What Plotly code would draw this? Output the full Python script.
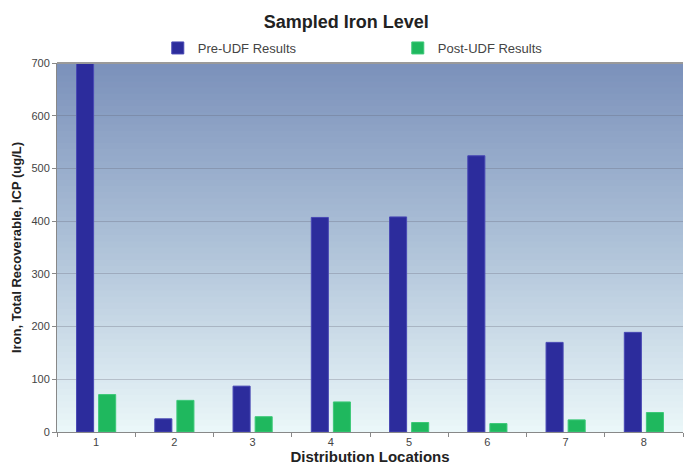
import plotly.graph_objects as go

locations = ["1", "2", "3", "4", "5", "6", "7", "8"]
pre_udf = [700, 25, 87, 407, 408, 524, 170, 189]
post_udf = [71, 60, 29, 57, 18, 16, 23, 37]
y_ticks = [0, 100, 200, 300, 400, 500, 600, 700]

fig = go.Figure()
fig.add_trace(go.Bar(x=locations, y=pre_udf, name="Pre-UDF Results",
                     marker=dict(color="#2c2c9c", line=dict(color="#4848b4", width=1))))
fig.add_trace(go.Bar(x=locations, y=post_udf, name="Post-UDF Results",
                     marker=dict(color="#1fb85e", line=dict(color="#3cc878", width=1))))

# gradient background bands
top = (124, 146, 188)
mid = (170, 190, 214)
bot = (234, 247, 249)
n = 60
shapes = []
for i in range(n):
    t = i / (n - 1)  # 0 bottom -> 1 top
    if t < 0.55:
        u = t / 0.55
        c = tuple(int(bot[k] + (mid[k] - bot[k]) * u) for k in range(3))
    else:
        u = (t - 0.55) / 0.45
        c = tuple(int(mid[k] + (top[k] - mid[k]) * u) for k in range(3))
    shapes.append(dict(type="rect", xref="x domain", yref="y domain",
                       x0=0, x1=1, y0=i / n, y1=(i + 1) / n + 0.002,
                       fillcolor="rgb(%d,%d,%d)" % c, line=dict(width=0), layer="below"))
shapes.append(dict(type="line", xref="x domain", yref="y domain", x0=0, x1=1, y0=1, y1=1,
                   line=dict(color="#9a9a9a", width=2), layer="above"))

fig.update_layout(
    width=687, height=472,
    margin=dict(l=57, r=4, t=63, b=40),
    paper_bgcolor="white", plot_bgcolor="rgba(0,0,0,0)",
    font=dict(family="Liberation Sans, Arial", size=11, color="#333333"),
    title=dict(text="<b>Sampled Iron Level</b>", x=0.504, xanchor="center", y=0.955, yanchor="middle",
               font=dict(size=18, color="#222222")),
    legend=dict(orientation="h", x=0.161, xanchor="left", y=1.0, yanchor="bottom",
                entrywidth=195, entrywidthmode="pixels", font=dict(size=13, color="#444444"),
                bgcolor="rgba(0,0,0,0)", itemclick=False, tracegroupgap=0, itemwidth=30),
    bargap=0.436, bargroupgap=0.227,
    shapes=shapes,
    xaxis=dict(title=dict(text="<b>Distribution Locations</b>", font=dict(size=15, color="#222222"), standoff=4),
               showline=True, linecolor="#888888", ticks="outside", tickcolor="#888888",
               ticklen=4, tickson="boundaries", tickfont=dict(size=11, color="#444444")),
    yaxis=dict(title=dict(text="<b>Iron, Total Recoverable, ICP (ug/L)</b>", font=dict(size=13, color="#222222"), standoff=6),
               range=[0, 700], tickvals=y_ticks, showline=True, linecolor="#888888",
               ticks="outside", tickcolor="#888888", ticklen=4,
               gridcolor="rgba(100,100,115,0.3)", gridwidth=1, zeroline=False,
               tickfont=dict(size=11, color="#444444")),
)
fig.write_html("out.html")
